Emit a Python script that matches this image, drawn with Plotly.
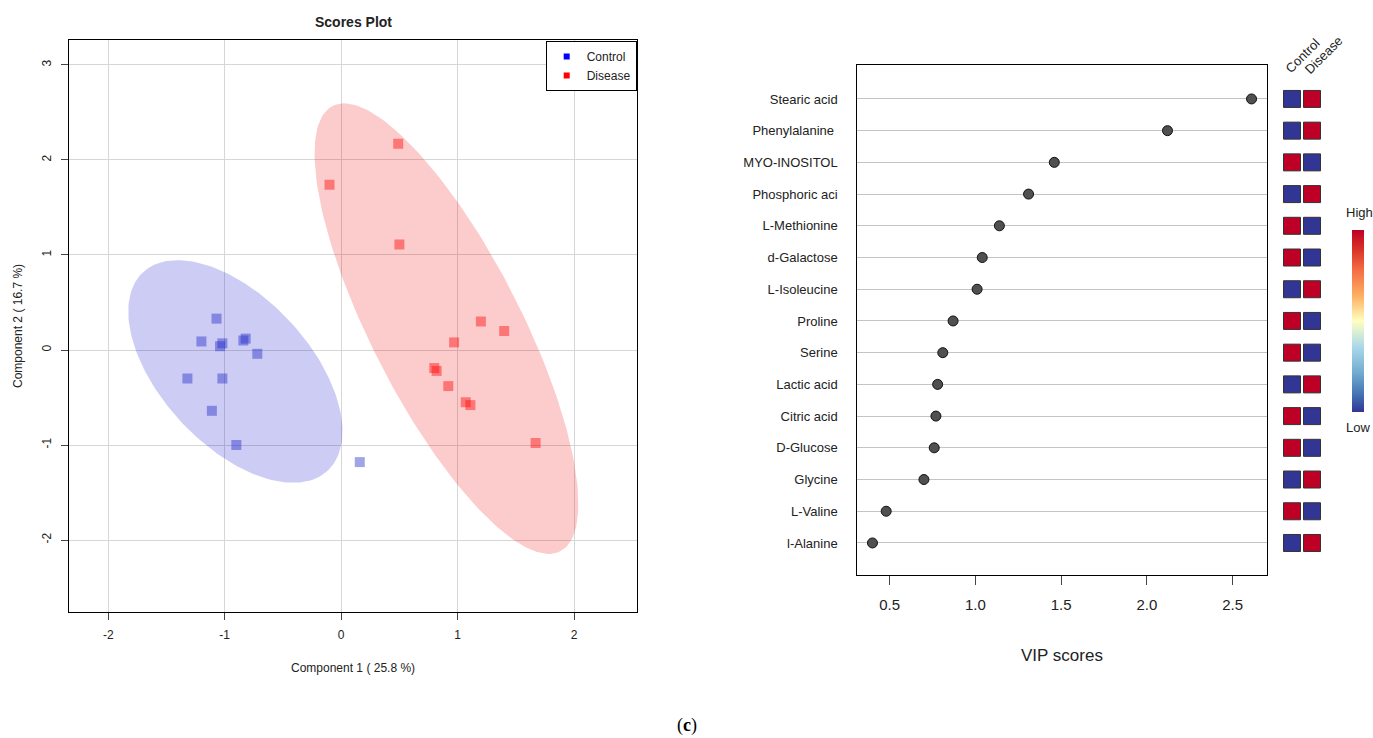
import numpy as np
import plotly.graph_objects as go

W, H = 1373, 738
FONT = "Liberation Sans, Arial, Helvetica, sans-serif"

# ---- PLS-DA scores (component 1 / component 2) ----
ctrl_pc1 = [-1.07, -1.20, -1.02, -1.04, -0.84, -0.82, -0.72, -1.32, -1.02, -1.11, -0.90, 0.16]
ctrl_pc2 = [0.33, 0.09, 0.07, 0.04, 0.10, 0.12, -0.04, -0.30, -0.30, -0.64, -1.00, -1.18]
dis_pc1 = [0.49, -0.10, 0.50, 1.20, 1.40, 0.97, 0.80, 0.82, 0.92, 1.07, 1.11, 1.67]
dis_pc2 = [2.17, 1.74, 1.11, 0.30, 0.20, 0.08, -0.19, -0.22, -0.38, -0.55, -0.58, -0.98]
score_ticks_x = [-2, -1, 0, 1, 2]
score_ticks_y = [-2, -1, 0, 1, 2, 3]

# ---- VIP scores and group levels (1 = high, 0 = low) ----
metabolites = ["Stearic acid", "Phenylalanine ", "MYO-INOSITOL", "Phosphoric aci",
               "L-Methionine", "d-Galactose", "L-Isoleucine", "Proline", "Serine",
               "Lactic acid", "Citric acid", "D-Glucose", "Glycine", "L-Valine", "l-Alanine"]
vip_scores = [2.61, 2.12, 1.46, 1.31, 1.14, 1.04, 1.01, 0.87, 0.81, 0.78, 0.77, 0.76, 0.70, 0.48, 0.40]
control_level = [0, 0, 1, 0, 1, 1, 0, 1, 1, 0, 1, 1, 0, 1, 0]
disease_level = [1, 1, 0, 1, 0, 0, 1, 0, 0, 1, 0, 0, 1, 0, 1]
groups = ["Control", "Disease"]
vip_ticks = [0.5, 1.0, 1.5, 2.0, 2.5]


def px_x(p):
    return p / W


def px_y(p):
    return 1 - p / H


def conf_ellipse(x, y, n=200):
    """95% confidence ellipse of a 2-D point cloud."""
    pts = np.column_stack([x, y])
    centre = pts.mean(axis=0)
    cov = np.cov(pts, rowvar=False)
    vals, vecs = np.linalg.eigh(cov)
    scale = np.sqrt(-2 * np.log(0.05))  # chi-square (2 df) 95% quantile
    t = np.linspace(0, 2 * np.pi, n)
    circle = np.column_stack([np.cos(t), np.sin(t)])
    ell = circle * (scale * np.sqrt(vals)) @ vecs.T + centre
    return ell[:, 0], ell[:, 1]


fig = go.Figure()

# confidence regions
for xs, ys, fill in [(ctrl_pc1, ctrl_pc2, "rgba(0,0,200,0.2)"),
                     (dis_pc1, dis_pc2, "rgba(240,0,0,0.2)")]:
    ex, ey = conf_ellipse(xs, ys)
    fig.add_trace(go.Scatter(x=ex, y=ey, mode="lines", fill="toself",
                             fillcolor=fill, line=dict(width=0),
                             hoverinfo="skip", showlegend=False,
                             xaxis="x", yaxis="y"))

# score points
fig.add_trace(go.Scatter(x=ctrl_pc1, y=ctrl_pc2, mode="markers", showlegend=False,
                         marker=dict(symbol="square", size=10, color="rgba(30,40,200,0.42)",
                                     line=dict(width=0)),
                         xaxis="x", yaxis="y"))
fig.add_trace(go.Scatter(x=dis_pc1, y=dis_pc2, mode="markers", showlegend=False,
                         marker=dict(symbol="square", size=10, color="rgba(255,0,0,0.42)",
                                     line=dict(width=0)),
                         xaxis="x", yaxis="y"))

# legend keys
for name, col in [("Control", "#0000ff"), ("Disease", "#ff0000")]:
    fig.add_trace(go.Scatter(x=[None], y=[None], mode="markers", name=name,
                             marker=dict(symbol="square", size=6, color=col),
                             xaxis="x", yaxis="y"))

# VIP dot chart
fig.add_trace(go.Scatter(x=vip_scores, y=list(range(len(metabolites))), mode="markers",
                         showlegend=False,
                         marker=dict(size=10, color="#505050", line=dict(color="#111111", width=1)),
                         xaxis="x2", yaxis="y2"))

# group level cells
cell_x, cell_y, cell_v = [], [], []
for i in range(len(metabolites)):
    for j, lv in enumerate([control_level[i], disease_level[i]]):
        cell_x.append(j)
        cell_y.append(i)
        cell_v.append(lv)

rdylbu = [[0.0, "rgb(49,54,149)"], [0.1, "rgb(69,117,180)"], [0.22, "rgb(116,173,209)"],
          [0.36, "rgb(171,217,233)"], [0.5, "rgb(255,255,191)"], [0.64, "rgb(253,174,97)"],
          [0.78, "rgb(244,109,67)"], [0.9, "rgb(215,48,39)"], [1.0, "rgb(190,0,38)"]]

fig.add_trace(go.Scatter(
    x=cell_x, y=cell_y, mode="markers", showlegend=False, xaxis="x3", yaxis="y3",
    marker=dict(symbol="square", size=17, color=cell_v, colorscale=rdylbu, cmin=0, cmax=1,
                line=dict(color="#333333", width=1),
                colorbar=dict(x=px_x(1352), xanchor="left", y=px_y(230), yanchor="top",
                              len=182 / H, lenmode="fraction", thickness=12,
                              outlinewidth=0, showticklabels=False, ticks="",
                              xpad=0, ypad=0))))

n = len(metabolites)
vmin, vmax = min(vip_scores), max(vip_scores)
pad = 0.04 * (vmax - vmin)

axis_common = dict(showline=True, mirror=True, linecolor="black", linewidth=1,
                   zeroline=False, tickfont=dict(family=FONT, size=12, color="#222222"))

fig.update_layout(
    width=W, height=H, margin=dict(l=0, r=0, t=0, b=0),
    paper_bgcolor="white", plot_bgcolor="white",
    font=dict(family=FONT, color="#222222"),
    xaxis=dict(domain=[px_x(69), px_x(636.7)], range=[-2.337, 2.538],
               tickvals=score_ticks_x, ticktext=[str(v) for v in score_ticks_x],
               showgrid=True, gridcolor="#d6d6d6", ticks="outside", ticklen=7,
               ticklabelstandoff=4, anchor="y", **axis_common),
    yaxis=dict(domain=[px_y(612.3), px_y(40)], range=[-2.761, 3.263],
               tickvals=score_ticks_y, ticktext=[str(v) for v in score_ticks_y],
               tickangle=-90, showgrid=True, gridcolor="#d6d6d6", ticks="outside",
               ticklen=7, ticklabelstandoff=5, anchor="x", **axis_common),
    xaxis2=dict(domain=[px_x(857.3), px_x(1266.7)], range=[vmin - pad, vmax + pad],
                tickvals=vip_ticks, ticktext=[f"{v:.1f}" for v in vip_ticks],
                showgrid=False, ticks="outside", ticklen=9, ticklabelstandoff=7,
                anchor="y2",
                showline=True, mirror=True, linecolor="black", linewidth=1, zeroline=False,
                tickfont=dict(family=FONT, size=15, color="#222222")),
    yaxis2=dict(domain=[px_y(575), px_y(65)], range=[n + 0.01, -1.07],
                tickvals=list(range(n)), ticktext=metabolites, ticks="",
                showgrid=True, gridcolor="#c4c4c4", anchor="x2",
                ticklabelstandoff=16,
                showline=True, mirror=True, linecolor="black", linewidth=1, zeroline=False,
                tickfont=dict(family=FONT, size=13, color="#222222")),
    xaxis3=dict(domain=[px_x(1282), px_x(1322)], range=[-0.5, 1.5], visible=False,
                anchor="y3"),
    yaxis3=dict(domain=[px_y(575), px_y(65)], range=[n + 0.01, -1.07], visible=False,
                anchor="x3"),
    legend=dict(x=px_x(636.7), xanchor="right", y=px_y(41), yanchor="top",
                bordercolor="black", borderwidth=1, bgcolor="white",
                font=dict(family=FONT, size=12, color="#222222"),
                itemsizing="trace", itemwidth=30, tracegroupgap=0),
)

annotations = [
    dict(text="<b>Scores Plot</b>", x=px_x(353), y=px_y(22), font=dict(size=14)),
    dict(text="Component 1 ( 25.8 %)", x=px_x(353), y=px_y(668), font=dict(size=12)),
    dict(text="Component 2 ( 16.7 %)", x=px_x(18), y=px_y(326), textangle=-90,
         font=dict(size=12)),
    dict(text="VIP scores", x=px_x(1062), y=px_y(655), font=dict(size=17)),
    dict(text="High", x=px_x(1359), y=px_y(213), font=dict(size=13)),
    dict(text="Low", x=px_x(1358), y=px_y(427), font=dict(size=13)),
    dict(text=groups[0], x=px_x(1303), y=px_y(56), textangle=-45, font=dict(size=13)),
    dict(text=groups[1], x=px_x(1323), y=px_y(55), textangle=-45, font=dict(size=13)),
    dict(text="(<b>c</b>)", x=px_x(687), y=px_y(725),
         font=dict(family="Liberation Serif, Times New Roman, serif", size=18, color="black")),
]
for a in annotations:
    a.update(xref="paper", yref="paper", showarrow=False, xanchor="center", yanchor="middle")
    a["font"] = dict(family=a["font"].get("family", FONT), size=a["font"]["size"],
                     color=a["font"].get("color", "#222222"))
    fig.add_annotation(**a)

fig.write_html("out.html")
